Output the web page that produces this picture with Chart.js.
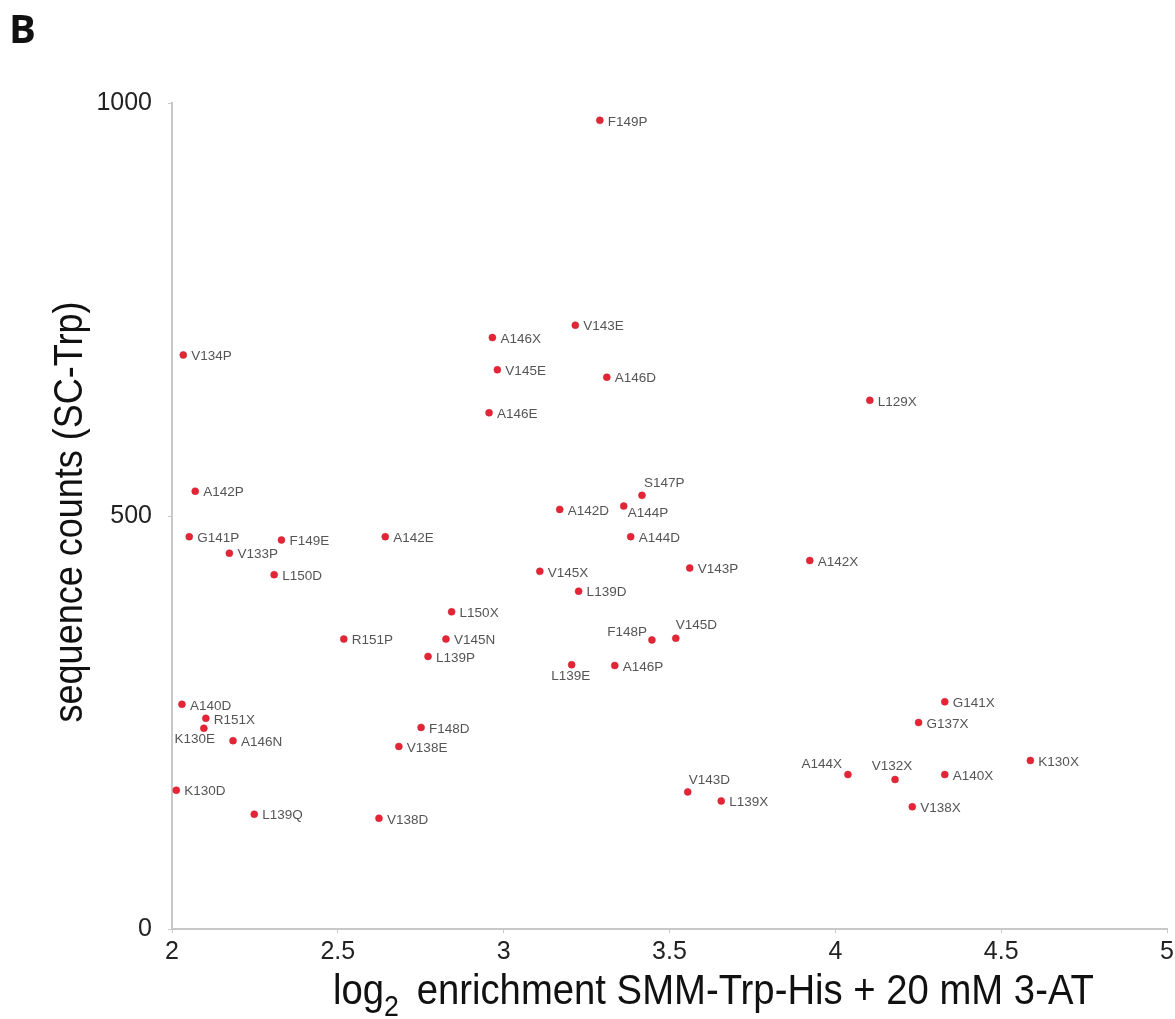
<!DOCTYPE html>
<html>
<head>
<meta charset="utf-8">
<script src="https://cdn.jsdelivr.net/npm/chart.js@4.4.1/dist/chart.umd.min.js"></script>
<style>
  body { margin: 0; background: #fff; }
  canvas { display: block; }
</style>
</head>
<body>
<canvas id="myChart" width="1175" height="1019"></canvas>
<script>
// mutant names, log2 enrichment (x) and sequence counts (y)
const mutants = ['F149P', 'A146X', 'V143E', 'V134P', 'V145E', 'A146D', 'A146E', 'L129X',
  'A142P', 'S147P', 'A142D', 'A144P', 'G141P', 'A142E', 'F149E', 'A144D', 'V133P',
  'V145X', 'V143P', 'A142X', 'L150D', 'L139D', 'L150X', 'R151P', 'V145N', 'F148P',
  'V145D', 'L139P', 'L139E', 'A146P', 'A140D', 'G141X', 'R151X', 'G137X', 'K130E',
  'F148D', 'A146N', 'V138E', 'K130X', 'A144X', 'V132X', 'A140X', 'K130D', 'V143D',
  'L139X', 'V138X', 'L139Q', 'V138D'];
const enrichment = [3.290, 2.966, 3.216, 2.034, 2.981, 3.311, 2.956, 4.104,
  2.070, 3.417, 3.169, 3.362, 2.052, 2.643, 2.330, 3.383, 2.173,
  3.109, 3.561, 3.923, 2.308, 3.226, 2.843, 2.518, 2.826, 3.447,
  3.519, 2.772, 3.205, 3.335, 2.030, 4.330, 2.102, 4.251, 2.096,
  2.751, 2.184, 2.684, 4.588, 4.038, 4.180, 4.330, 2.013, 3.555,
  3.656, 4.232, 2.248, 2.624];
const counts = [979, 716, 731, 695, 677, 668, 625, 640,
  530, 525, 508, 512, 475, 475, 471, 475, 455,
  433, 437, 446, 429, 409, 384, 351, 351, 350,
  352, 330, 320, 319, 272, 275, 255, 250, 243,
  244, 228, 221, 204, 187, 181, 187, 168, 166,
  155, 148, 139, 134];
const xTicks = [2, 2.5, 3, 3.5, 4, 4.5, 5];
const yTicks = [0, 500, 1000];

// labels that are not placed to the right of their dot
const labelPlace = {
  'K130E': { dx: -9, dy: 11, align: 'center' },
  'S147P': { dx: 2, dy: -12, align: 'left' },
  'A144P': { dx: 4, dy: 7, align: 'left' },
  'L139E': { dx: -1, dy: 12, align: 'center' },
  'F148P': { dx: -5, dy: -8, align: 'right' },
  'V145D': { dx: 0, dy: -13, align: 'left' },
  'V143D': { dx: 1, dy: -12, align: 'left' },
  'A144X': { dx: -6, dy: -10, align: 'right' },
  'V132X': { dx: -3, dy: -13, align: 'center' }
};

const points = mutants.map((m, i) => ({ x: enrichment[i], y: counts[i] }));

const pointLabels = {
  id: 'pointLabels',
  afterDatasetsDraw(chart) {
    const ctx = chart.ctx;
    const meta = chart.getDatasetMeta(0);
    ctx.save();
    ctx.font = '13.5px "Liberation Sans", Arial, sans-serif';
    ctx.fillStyle = '#555';
    ctx.textBaseline = 'middle';
    meta.data.forEach((el, i) => {
      const p = labelPlace[mutants[i]] || { dx: 8, dy: 1.5, align: 'left' };
      ctx.textAlign = p.align;
      ctx.fillText(mutants[i], el.x + p.dx, el.y + p.dy);
    });
    ctx.restore();
  }
};

const titles = {
  id: 'titles',
  afterDraw(chart) {
    const ctx = chart.ctx;
    ctx.save();
    ctx.fillStyle = '#111';
    // panel letter
    ctx.font = 'bold 40px "Open Sans", Arial, sans-serif';
    ctx.textBaseline = 'alphabetic';
    ctx.textAlign = 'left';
    ctx.fillText('B', 9, 43);

    // y title, rotated
    ctx.save();
    ctx.translate(82, 512);
    ctx.rotate(-Math.PI / 2);
    ctx.scale(0.9, 1);
    ctx.font = '40px "Liberation Sans", Arial, sans-serif';
    ctx.textAlign = 'center';
    ctx.fillText('sequence counts (SC-Trp)', 0, 0);
    ctx.restore();

    // x title with subscript 2
    ctx.save();
    ctx.translate(333, 1004);
    ctx.scale(0.89, 1);
    ctx.textAlign = 'left';
    ctx.font = '43px "Liberation Sans", Arial, sans-serif';
    ctx.fillText('log', 0, 0);
    let w = ctx.measureText('log').width;
    ctx.font = '30px "Liberation Sans", Arial, sans-serif';
    ctx.fillText('2', w, 12);
    w += ctx.measureText('2').width + 8;
    ctx.font = '43px "Liberation Sans", Arial, sans-serif';
    ctx.fillText(' enrichment SMM-Trp-His + 20 mM 3-AT', w, 0);
    ctx.restore();
    ctx.restore();
  }
};

const ctx = document.getElementById('myChart').getContext('2d');
const scatter = new Chart(ctx, {
  type: 'scatter',
  data: {
    datasets: [{
      data: points,
      backgroundColor: '#e52535',
      borderColor: '#c8202e',
      borderWidth: 0.5,
      pointRadius: 3.5
    }]
  },
  options: {
    responsive: false,
    animation: false,
    layout: { padding: { top: 103, right: 8, left: 0, bottom: 0 } },
    plugins: {
      legend: { display: false },
      tooltip: { enabled: false }
    },
    scales: {
      x: {
        type: 'linear',
        min: 2,
        max: 5,
        afterBuildTicks: (scale) => { scale.ticks = xTicks.map(v => ({ value: v })); },
        afterFit: (scale) => {
          scale.height = 90;
          scale.paddingRight = 0;
          scale.paddingLeft = 0;
        },
        border: { color: '#c8c8c8', width: 2 },
        grid: { drawOnChartArea: false, tickLength: 4, color: '#c8c8c8' },
        ticks: {
          padding: 4,
          color: '#222',
          callback: (v) => String(v),
          font: { family: '"Liberation Sans", Arial, sans-serif', size: 25 }
        }
      },
      y: {
        type: 'linear',
        min: 0,
        max: 1000,
        afterBuildTicks: (scale) => { scale.ticks = yTicks.map(v => ({ value: v })); },
        afterFit: (scale) => { scale.width = 172; },
        border: { color: '#c8c8c8', width: 2 },
        grid: { drawOnChartArea: false, tickLength: 4, color: '#c8c8c8' },
        ticks: {
          padding: 16,
          color: '#222',
          callback: (v) => String(v),
          font: { family: '"Liberation Sans", Arial, sans-serif', size: 25 }
        }
      }
    }
  },
  plugins: [pointLabels, titles]
});
</script>
</body>
</html>
